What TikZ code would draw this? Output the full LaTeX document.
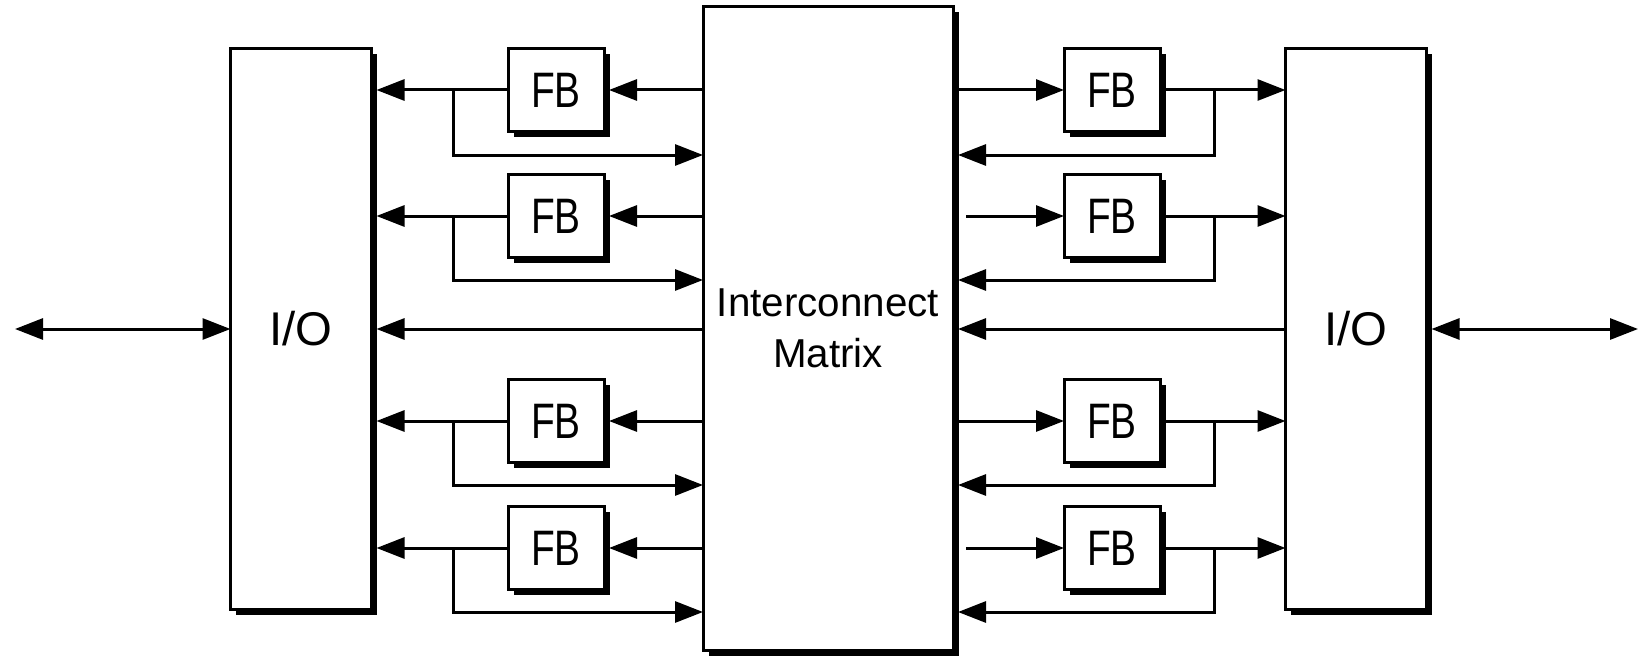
\documentclass[tikz,border=0pt]{standalone}
\usepackage{fontspec}
\setmainfont{Liberation Sans}
\usepackage{graphicx}
\usetikzlibrary{arrows.meta,shadows}
\tikzset{
  blk/.style={draw=black, line width=3bp, fill=white, inner sep=0pt, outer sep=0pt,
    drop shadow={shadow xshift=5.5bp, shadow yshift=-5.5bp, fill=black, opacity=1}},
  fbbox/.style={blk, minimum width=96bp, minimum height=83bp,
    font=\fontsize{50}{60}\selectfont},
  iobox/.style={blk, minimum width=141bp, minimum height=560bp,
    font=\fontsize{47.5}{57}\selectfont},
  imbox/.style={blk, minimum width=250bp, minimum height=643bp, align=center,
    font=\fontsize{40.5}{51}\selectfont},
  arr/.style={line width=3bp, -{Triangle[length=28bp,width=21bp]}},
  barr/.style={line width=3bp, {Triangle[length=28bp,width=21bp]}-{Triangle[length=28bp,width=21bp]}}
}
\begin{document}
\begin{tikzpicture}[x=1bp,y=-1bp]
\fill[white] (0,0) rectangle (1640,659);
\useasboundingbox (0,0) rectangle (1640,659);

% main blocks
\node[iobox] (IOL) at (301,329) {\raisebox{2bp}{I/O}};
\node[iobox] (IOR) at (1356,329) {\raisebox{2bp}{I/O}};
\node[imbox] (IM) at (828,328.5) {\raisebox{-4bp}{Interconnect}\\\raisebox{-4bp}{Matrix}};

% function blocks
\node[fbbox] (FBL1) at (556,90)  {\scalebox{0.78}[1]{FB}};
\node[fbbox] (FBL2) at (556,216) {\scalebox{0.78}[1]{FB}};
\node[fbbox] (FBL3) at (556,421) {\scalebox{0.78}[1]{FB}};
\node[fbbox] (FBL4) at (556,548) {\scalebox{0.78}[1]{FB}};
\node[fbbox] (FBR1) at (1112,90)  {\scalebox{0.78}[1]{FB}};
\node[fbbox] (FBR2) at (1112,216) {\scalebox{0.78}[1]{FB}};
\node[fbbox] (FBR3) at (1112,421) {\scalebox{0.78}[1]{FB}};
\node[fbbox] (FBR4) at (1112,548) {\scalebox{0.78}[1]{FB}};

% branch points and feedback corners
\foreach \k/\ym/\yf in {1/90/155, 2/216/280, 3/421/485, 4/548/612}{
  \coordinate (bL\k) at (453,\ym);
  \coordinate (eL\k) at (453,\yf);
  \coordinate (bR\k) at (1214,\ym);
  \coordinate (eR\k) at (1214,\yf);
}

% left side rows
\foreach \k in {1,2,3,4}{
  \draw[arr] (IM.west |- FBL\k) -- ([xshift=5bp]FBL\k.east);
  \draw[arr] (FBL\k.west) -- ([xshift=5bp]IOL.east |- FBL\k);
  \draw[arr] (bL\k) -- (eL\k) -- (IM.west |- eL\k);
}
% right side rows
\draw[arr] ([xshift=5bp]IM.east |- FBR1) -- (FBR1.west);
\draw[arr] ([xshift=13bp]IM.east |- FBR2) -- (FBR2.west);
\draw[arr] ([xshift=5bp]IM.east |- FBR3) -- (FBR3.west);
\draw[arr] ([xshift=13bp]IM.east |- FBR4) -- (FBR4.west);
\foreach \k in {1,2,3,4}{
  \draw[arr] ([xshift=5bp]FBR\k.east) -- (IOR.west |- FBR\k);
  \draw[arr] (bR\k) -- (eR\k) -- ([xshift=5bp]IM.east |- eR\k);
}

% middle row
\coordinate (mid) at (828,329);
\draw[arr] (IM.west |- mid) -- ([xshift=5bp]IOL.east |- mid);
\draw[arr] (IOR.west |- mid) -- ([xshift=5bp]IM.east |- mid);

% external connections
\coordinate (outL) at (15,329);
\coordinate (outR) at (1638,329);
\draw[barr] (outL) -- (IOL.west |- outL);
\draw[barr] ([xshift=5bp]IOR.east |- outR) -- (outR);
\end{tikzpicture}
\end{document}
